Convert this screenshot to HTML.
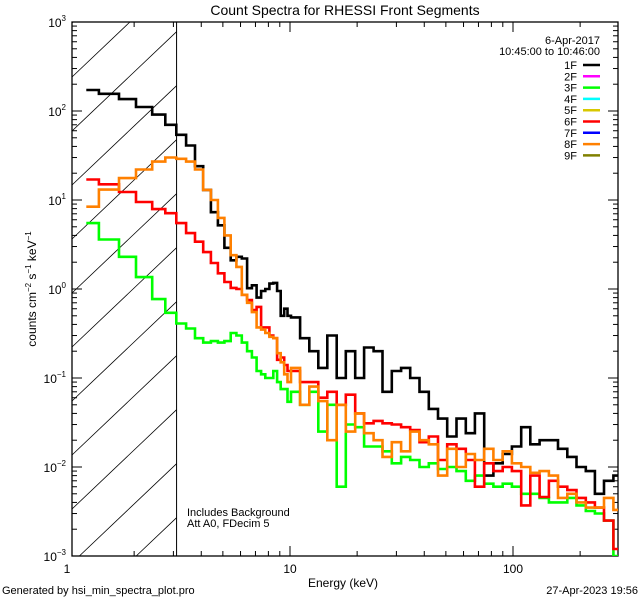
<!DOCTYPE html>
<html><head><meta charset="utf-8"><style>
html,body{margin:0;padding:0;background:#fff;width:640px;height:600px;overflow:hidden}
svg{display:block}
svg text{font-family:"Liberation Sans",sans-serif;fill:#000}
</style></head><body>
<svg id="chart" width="640" height="600" viewBox="0 0 640 600" xmlns="http://www.w3.org/2000/svg">
<rect x="0" y="0" width="640" height="600" fill="#fff"/>
<text x="345" y="15" font-size="14" text-anchor="middle">Count Spectra for RHESSI Front Segments</text>
<text x="343" y="587" font-size="12" text-anchor="middle">Energy (keV)</text>
<text transform="translate(36,289) rotate(-90)" font-size="12" text-anchor="middle">counts cm<tspan font-size="8" dy="-5">−2</tspan><tspan dy="5"> s</tspan><tspan font-size="8" dy="-5">−1</tspan><tspan dy="5"> keV</tspan><tspan font-size="8" dy="-5">−1</tspan></text>
<text x="2" y="594" font-size="11">Generated by hsi_min_spectra_plot.pro</text>
<text x="638" y="594" font-size="11" text-anchor="end">27-Apr-2023 19:56</text>
<text x="187" y="516" font-size="11">Includes Background</text>
<text x="187" y="527" font-size="11">Att A0, FDecim 5</text>
<text x="600" y="44" font-size="11" text-anchor="end">6-Apr-2017</text>
<text x="600" y="55" font-size="11" text-anchor="end">10:45:00 to 10:46:00</text>
<g id="legend"></g>
<g id="hatch"></g>
<g id="axes"></g>
<g id="series"></g>
</svg>
<script>
const energyEdges=[1.22,1.39,1.71,2.04,2.41,2.76,3.09,3.42,3.75,4.08,4.42,4.75,5.08,5.42,5.75,6.08,6.42,6.75,7.08,7.42,7.75,8.08,8.42,8.75,9.08,9.42,9.75,10.1,11.1,12.2,13.4,14.7,16.2,17.8,19.6,21.5,23.7,26.0,28.6,31.5,34.6,38.1,41.9,46.1,50.7,55.8,61.4,67.5,74.3,81.7,89.9,98.9,108.8,119.6,131.6,144.8,159.2,175.2,192.7,212,233,256,282,300];
const seg1F=[172,156,136,111,91,70,54,41,24,13,7.3,5.2,2.9,2.1,2.3,2.2,1.02,1.1,0.8,0.95,1.0,1.15,1.17,0.95,0.5,0.6,0.5,0.48,0.28,0.2,0.13,0.3,0.1,0.2,0.1,0.22,0.2,0.07,0.12,0.13,0.1,0.07,0.045,0.035,0.022,0.035,0.024,0.04,0.008,0.011,0.014,0.017,0.028,0.018,0.02,0.02,0.016,0.013,0.01,0.009,0.005,0.007,0.008];
const seg3F=[5.5,3.6,2.3,1.36,0.77,0.54,0.41,0.36,0.28,0.25,0.26,0.25,0.26,0.32,0.3,0.25,0.2,0.17,0.12,0.11,0.1,0.1,0.12,0.09,0.075,0.075,0.054,0.07,0.05,0.07,0.025,0.05,0.006,0.03,0.028,0.017,0.017,0.015,0.011,0.013,0.012,0.01,0.011,0.0095,0.01,0.009,0.007,0.008,0.0065,0.006,0.0065,0.006,0.005,0.005,0.0045,0.004,0.004,0.0045,0.0037,0.0032,0.003,0.0025,0.001];
const seg6F=[17,15,12.3,9.5,7.9,7.1,5.5,4.25,3.4,2.6,1.96,1.5,1.2,1.03,1.0,0.86,0.75,0.58,0.63,0.37,0.37,0.3,0.28,0.16,0.17,0.14,0.12,0.12,0.09,0.09,0.06,0.07,0.05,0.065,0.04,0.031,0.033,0.031,0.03,0.028,0.026,0.019,0.022,0.012,0.018,0.016,0.012,0.006,0.011,0.009,0.01,0.009,0.0037,0.008,0.0046,0.007,0.006,0.0055,0.0045,0.004,0.0035,0.0025,0.0012];
const seg8F=[8.4,13.1,17.6,22,27,30,29,27,22,13,10,6.3,4.0,2.4,1.77,0.86,0.7,0.55,0.37,0.35,0.32,0.29,0.28,0.19,0.15,0.11,0.09,0.13,0.05,0.08,0.055,0.02,0.05,0.025,0.04,0.024,0.02,0.013,0.019,0.015,0.025,0.02,0.018,0.008,0.016,0.01,0.014,0.012,0.016,0.012,0.015,0.011,0.01,0.0086,0.009,0.008,0.0045,0.005,0.004,0.0035,0.0035,0.0045,0.0033];
const legendLabels=["1F","2F","3F","4F","5F","6F","7F","8F","9F"];
const legendColors=["#000000","#ff00ff","#00ff00","#00ffff","#d8c800","#ff0000","#0000ff","#ff8000","#808000"];
const yTickExps=[-3,-2,-1,0,1,2,3];
const xTickVals=[1,10,100];

const NS="http://www.w3.org/2000/svg";
const L=72,R=618,T=22,B=556;
function xs(e){return 67+223*Math.log10(e);}
function ys(v){return T+(3-Math.log10(v))*(B-T)/6;}
function mk(tag,attrs,parent){const el=document.createElementNS(NS,tag);for(const k in attrs)el.setAttribute(k,attrs[k]);parent.appendChild(el);return el;}

const hatch=document.getElementById('hatch');
const defs=mk('defs',{},hatch);
const hg=mk('g',{},hatch);


const XR=xs(3.1), slope=0.95;
for(let c=-600;c<700;c+=54){
  const y0=83+c; // y at x=L
  // y(x)=y0-slope*(x-L); clip to [L,XR]x[T,B]
  let xa=L, xb=XR;
  if(y0>B) xa=Math.max(xa, L+(y0-B)/slope);
  xb=Math.min(xb, L+(y0-T)/slope);
  if(xb<=xa) continue;
  mk('line',{x1:xa,y1:y0-slope*(xa-L),x2:xb,y2:y0-slope*(xb-L),stroke:'#000','stroke-width':0.8},hg);
}
const vline=mk('line',{x1:XR,y1:T,x2:XR,y2:B,stroke:'#000','stroke-width':1},hatch);



const ax=document.getElementById('axes');
const frame=mk('rect',{x:L,y:T,width:R-L,height:B-T,fill:'none',stroke:'#000','stroke-width':1.3},ax);


yTickExps.forEach(p=>{
  for(let m=1;m<=9;m++){
    const v=m*Math.pow(10,p); if(p===3&&m>1)continue;
    const y=ys(v); const len=m===1?10:5;
    mk('line',{x1:L,y1:y,x2:L+len,y2:y,stroke:'#000','stroke-width':1},ax);
    mk('line',{x1:R,y1:y,x2:R-len,y2:y,stroke:'#000','stroke-width':1},ax);
  }
  const t=mk('text',{x:L-6,y:ys(Math.pow(10,p))+5,'font-size':12,'text-anchor':'end'},ax);
  
  
  t.innerHTML='10<tspan font-size="8" dy="-6">'+(p<0?'−'+(-p):p)+'</tspan>';
});
for(let d=0;d<3;d++){
  for(let m=1;m<=9;m++){
    const e=m*Math.pow(10,d); const x=xs(e); if(x<L||x>R)continue;
    const len=m===1?10:5;
    mk('line',{x1:x,y1:B,x2:x,y2:B-len,stroke:'#000','stroke-width':1},ax);
    mk('line',{x1:x,y1:T,x2:x,y2:T+len,stroke:'#000','stroke-width':1},ax);
  }
}
xTickVals.forEach(v=>{
  const t=mk('text',{x:xs(v),y:B+17,'font-size':12,'text-anchor':'middle'},ax);
  
  
  t.textContent=String(v);
});

const sg=document.getElementById('series');
const cps=mk('clipPath',{id:'pclip'},defs);
mk('rect',{x:L,y:T,width:R-L,height:B-T},cps);
function drawStep(vals,color,name){
  let d='';
  for(let i=0;i<vals.length;i++){
    const x0=xs(energyEdges[i]),x1=xs(energyEdges[i+1]),y=ys(vals[i]);
    d+=(i===0?'M':'L')+x0.toFixed(1)+','+y.toFixed(1)+'L'+x1.toFixed(1)+','+y.toFixed(1);
  }
  const p=mk('path',{d:d,fill:'none',stroke:color,'stroke-width':2.6,'stroke-linejoin':'miter','clip-path':'url(#pclip)'},sg);
  
  
}
drawStep(seg1F,'#000000','series-1f');
drawStep(seg3F,'#00ff00','series-3f');
drawStep(seg6F,'#ff0000','series-6f');
drawStep(seg8F,'#ff8000','series-8f');

const lg=document.getElementById('legend');
legendLabels.forEach((lab,i)=>{
  const y=65+i*11.3;
  const g=mk('g',{},lg);
  
  
  const t=mk('text',{x:577,y:y+4,'font-size':11,'text-anchor':'end'},g);
  t.textContent=lab;
  mk('line',{x1:583,y1:y,x2:600,y2:y,stroke:legendColors[i],'stroke-width':2.5},g);
});
</script>
</body></html>
